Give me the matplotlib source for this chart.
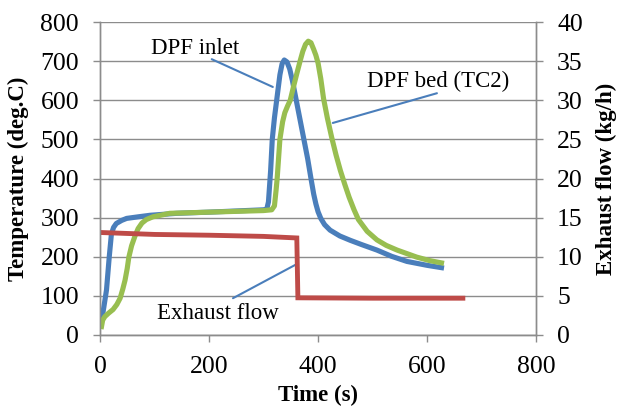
import matplotlib
matplotlib.use("Agg")
import matplotlib.pyplot as plt

# ---- data ----
inlet_t = [3, 7, 12, 17, 21, 25, 30, 40, 49, 70, 92, 141, 200, 250, 300, 306, 309, 311, 313, 316,
           320, 325, 330, 334, 338, 343, 348, 353, 360, 367, 374, 381, 387, 392, 396, 400, 405,
           412, 422, 440, 459, 480, 508, 535, 563, 600, 631]
inlet_T = [35, 70, 115, 199, 258, 275, 285, 293, 298, 302, 306, 311, 314, 317, 320, 322, 340, 380, 420, 500,
           555, 610, 665, 693, 703, 698, 680, 650, 600, 550, 500, 450, 400, 360, 335, 315, 298,
           282, 268, 253, 242, 231, 217, 201, 188, 178, 171]

bed_t = [2, 5, 9, 16, 24, 31, 37, 42, 46, 50, 53, 58, 64, 70, 77, 85, 97, 128, 200, 250, 300, 315,
         320, 323, 325, 330, 335, 339, 344, 349, 355, 361, 367, 372, 377, 382, 387, 392, 396, 400,
         405, 410, 417, 425, 433, 441, 449, 457, 466, 474, 490, 508, 525, 545, 581, 605, 631]
bed_T = [15, 38, 47, 56, 65, 78, 94, 118, 140, 170, 199, 228, 252, 272, 286, 295, 302, 311, 314, 316, 318, 320,
         330, 370, 400, 500, 545, 568, 585, 600, 635, 668, 700, 725, 743, 751, 747, 730, 715, 695,
         655, 605, 555, 505, 460, 420, 385, 352, 320, 295, 265, 243, 229, 217, 199, 190, 183]

flow_t = [0, 100, 200, 300, 361, 363, 500, 670]
flow_kgh = [13.1, 12.85, 12.75, 12.6, 12.4, 4.75, 4.7, 4.7]

x_ticks = [0, 200, 400, 600, 800]
temp_ticks = [0, 100, 200, 300, 400, 500, 600, 700, 800]
flow_ticks = [0, 5, 10, 15, 20, 25, 30, 35, 40]

BLUE = "#4A7EBB"
GREEN = "#98BE50"
RED = "#BE4B48"
GRAY = "#8C8C8C"
SERIF = ["Liberation Serif", "DejaVu Serif"]

plt.rcParams["font.family"] = SERIF

fig = plt.figure(figsize=(6.17, 4.08), dpi=100)
ax = fig.add_axes([0.162, 0.179, 0.707, 0.767])
ax2 = ax.twinx()

ax.plot(inlet_t, inlet_T, color=BLUE, lw=3.7, solid_joinstyle="round", solid_capstyle="butt", zorder=3)
ax.plot(bed_t, bed_T, color=GREEN, lw=3.7, solid_joinstyle="round", solid_capstyle="butt", zorder=4)
ax2.plot(flow_t, flow_kgh, color=RED, lw=3.5, solid_joinstyle="miter", solid_capstyle="butt")

ax.set_xlim(0, 800)
ax.set_ylim(0, 800)
ax2.set_ylim(0, 40)
ax.set_xticks(x_ticks)
ax.set_yticks(temp_ticks)
ax2.set_yticks(flow_ticks)

ax.yaxis.grid(True, color=GRAY, lw=1.0)
ax.set_axisbelow(True)

for a in (ax, ax2):
    a.spines["top"].set_visible(False)
    for s in ("left", "right", "bottom"):
        a.spines[s].set_color(GRAY)
        a.spines[s].set_linewidth(1.0)
    a.tick_params(axis="both", which="major", length=5, width=1.0, color=GRAY,
                  labelsize=18.5, pad=10, direction="out")

ax.set_xlabel("Time (s)", fontsize=16.5, fontweight="bold")
ax.set_ylabel("Temperature (deg.C)", fontsize=16.5, fontweight="bold")
ax2.set_ylabel("Exhaust flow (kg/h)", fontsize=16.5, fontweight="bold")
ax.xaxis.set_label_coords(0.5, -0.16)
ax.yaxis.set_label_coords(-0.163, 0.5)
ax2.yaxis.set_label_coords(1.136, 0.5)

# annotations with leader lines
ax.text(174, 733, "DPF inlet", fontsize=16.5, ha="center", va="center")
ax.annotate("", xy=(317, 634), xytext=(205, 705),
            arrowprops=dict(arrowstyle="-", color=BLUE, lw=1.5, shrinkA=0, shrinkB=0))
ax.text(620, 647, "DPF bed (TC2)", fontsize=16.5, ha="center", va="center")
ax.annotate("", xy=(427, 542), xytext=(618, 618),
            arrowprops=dict(arrowstyle="-", color=BLUE, lw=1.5, shrinkA=0, shrinkB=0))
ax.text(216, 56, "Exhaust flow", fontsize=16.5, ha="center", va="center")
ax.annotate("", xy=(358, 179), xytext=(244, 94),
            arrowprops=dict(arrowstyle="-", color=BLUE, lw=1.5, shrinkA=0, shrinkB=0))

fig.savefig("out.png", dpi=100)
